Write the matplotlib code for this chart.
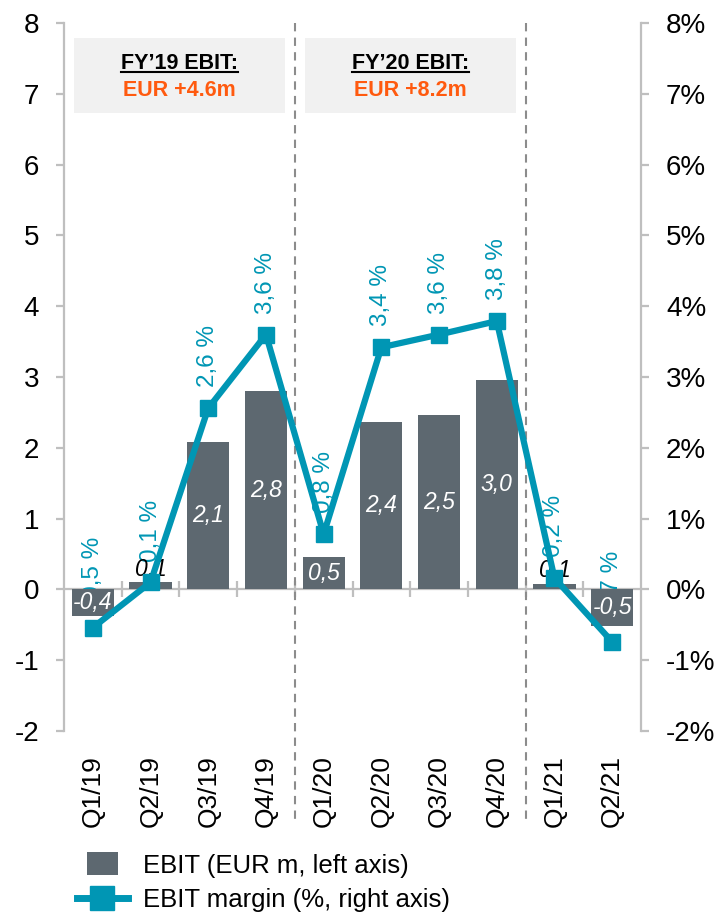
import matplotlib
matplotlib.use("Agg")
import matplotlib.pyplot as plt
from matplotlib.patches import Rectangle, Patch
from matplotlib.lines import Line2D
from matplotlib.legend_handler import HandlerPatch
from matplotlib.ticker import FuncFormatter

plt.rcParams['font.family'] = ['Liberation Sans', 'DejaVu Sans']
plt.rcParams['axes.unicode_minus'] = False

quarters = ["Q1/19", "Q2/19", "Q3/19", "Q4/19", "Q1/20", "Q2/20", "Q3/20", "Q4/20", "Q1/21", "Q2/21"]
ebit = [-0.38, 0.1, 2.08, 2.8, 0.46, 2.36, 2.46, 2.96, 0.08, -0.51]
margin = [-0.54, 0.1, 2.56, 3.6, 0.78, 3.42, 3.6, 3.79, 0.16, -0.74]
fy_titles = ["FY\u201919 EBIT:", "FY\u201920 EBIT:"]
fy_values = ["EUR +4.6m", "EUR +8.2m"]
fy_centers = [1.5, 5.5]
year_breaks = [3.5, 7.5]

BAR = "#5d6870"
TEAL = "#0096b4"
ORANGE = "#ff5a0f"
GRID = "#bfbfbf"

fig = plt.figure(figsize=(7.2, 9.14), dpi=100)
ax = fig.add_axes([0.0889, 0.2002, 0.8014, 0.7746])
ax2 = ax.twinx()

x = list(range(len(quarters)))
ax.set_xlim(-0.5, len(quarters) - 0.5)
ax.set_ylim(-2, 8)
ax2.set_ylim(-2, 8)

# bars
bars = ax.bar(x, ebit, width=0.73, color=BAR, zorder=2)
for xi, v in zip(x, ebit):
    lbl = f"{v:.1f}".replace('.', ',')
    if abs(v) < 0.3:
        ax.text(xi, v + 0.02, lbl, ha='center', va='bottom', fontsize=16.5,
                style='italic', color='black', zorder=3)
    else:
        ax.text(xi, v / 2, lbl, ha='center', va='center', fontsize=16.5,
                style='italic', color='white', zorder=3)

# zero line with category separators
ax.axhline(0, color=GRID, lw=1.6, zorder=1)
ax.vlines([i + 0.5 for i in x[:-1]], -0.1, 0.12, color=GRID, lw=1.6, zorder=1)

# margin line (right axis)
ax2.plot(x, margin, color=TEAL, lw=4.5, marker='s', markersize=12, zorder=3)
for xi, m in zip(x, margin):
    ax.annotate(f"{m:.1f} %".replace('.', ','), (xi, m), xycoords=ax2.transData,
                xytext=(0, 15), textcoords='offset points', rotation=90,
                ha='center', va='bottom', fontsize=17.5, color=TEAL, zorder=1.5)

# year separators
for b in year_breaks:
    ax.plot([b, b], [1.0, -0.13], transform=ax.get_xaxis_transform(), clip_on=False,
            color="#8c8c8c", lw=1.5, ls=(0, (4, 3)), zorder=1)

# FY boxes
for c, t, v in zip(fy_centers, fy_titles, fy_values):
    ax.add_patch(Rectangle((c - 1.83, 6.73), 3.66, 1.06, facecolor="#f1f1f1",
                           edgecolor='none', zorder=0.5))
    ax.text(c, 7.35, t, ha='center', va='baseline', fontsize=15.5, fontweight='bold',
            color='black', zorder=3)
    ax.text(c, 6.97, v, ha='center', va='baseline', fontsize=15.5, fontweight='bold',
            color=ORANGE, zorder=3)

# axes styling
for a in (ax, ax2):
    for s in ("top", "bottom"):
        a.spines[s].set_visible(False)
ax.spines["right"].set_visible(False)
ax2.spines["left"].set_visible(False)
ax.spines["left"].set_color(GRID)
ax.spines["left"].set_linewidth(1.6)
ax2.spines["right"].set_color(GRID)
ax2.spines["right"].set_linewidth(1.6)

ax.set_yticks(range(-2, 9))
ax2.set_yticks(range(-2, 9))
ax2.yaxis.set_major_formatter(FuncFormatter(lambda v, p: f"{v:.0f}%"))
ax.tick_params(axis='y', length=6, width=1.6, color=GRID, labelsize=20, pad=12)
ax2.tick_params(axis='y', length=6, width=1.6, color=GRID, labelsize=20, pad=12)
ax.set_xticks(x)
ax.set_xticklabels(quarters, rotation=90, fontsize=19)
ax.tick_params(axis='x', length=0, pad=17)

# underline the FY titles
fig.canvas.draw()
r = fig.canvas.get_renderer()
for t in ax.texts:
    if t.get_text() in fy_titles:
        bb = t.get_window_extent(r)
        _, yb = ax.transData.transform((0, 7.35))
        ybase = yb - 3
        x0, y0 = fig.transFigure.inverted().transform((bb.x0, ybase))
        x1, _ = fig.transFigure.inverted().transform((bb.x1, ybase))
        fig.add_artist(Line2D([x0, x1], [y0, y0], color='black', lw=1.5))

# legend
handles = [Patch(facecolor=BAR, edgecolor='none'),
           Line2D([], [], color=TEAL, lw=5, marker='s', markersize=17)]
labels = ["EBIT (EUR m, left axis)", "EBIT margin (%, right axis)"]


def small_box(legend, orig_handle, xdescent, ydescent, width, height, fontsize):
    return Rectangle((width * 0.2 - xdescent, -ydescent - 2), width * 0.6, height + 4)


fig.legend(handles, labels, loc='lower left', bbox_to_anchor=(0.092, -0.009),
           frameon=False, fontsize=18.5, handlelength=2.0, handletextpad=0.6,
           labelspacing=0.4, borderaxespad=0.0,
           handler_map={Patch: HandlerPatch(patch_func=small_box)})

fig.savefig("out.png", dpi=100)
